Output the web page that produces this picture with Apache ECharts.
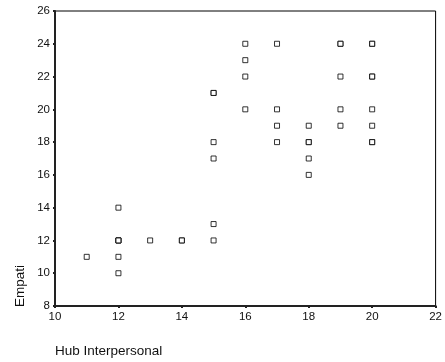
<!DOCTYPE html>
<html><head><meta charset="utf-8">
<script src="https://cdn.jsdelivr.net/npm/echarts@6/dist/echarts.min.js"></script>
<style>html,body{margin:0;padding:0;background:#fff}#c{width:445px;height:362px}</style>
</head><body><div id="c"></div>
<script>
// Hub Interpersonal (x) and Empati (y); repeated pairs are overlapping cases
var hubX = [11, 12,12,12,12,12,12, 13, 14,14, 15,15,15,15,15,15, 16,16,16,16, 17,17,17,17, 18,18,18,18,18, 19,19,19,19,19, 20,20,20,20,20,20,20,20];
var empatiY = [11, 14,12,12,12,11,10, 12, 12,12, 21,21,18,17,13,12, 24,23,22,20, 24,20,19,18, 19,18,18,17,16, 24,24,22,20,19, 24,24,22,22,20,19,18,18];
var xTicks = [10, 12, 14, 16, 18, 20, 22];
var yTicks = [8, 10, 12, 14, 16, 18, 20, 22, 24, 26];
var xTitle = 'Hub Interpersonal';
var yTitle = 'Empati';

var pts = hubX.map(function (x, i) { return [x, empatiY[i]]; });
var chart = echarts.init(document.getElementById('c'), null, { renderer: 'canvas' });
var font = 'Liberation Sans, Arial, sans-serif';
chart.setOption({
  animation: false,
  backgroundColor: '#fff',
  grid: { left: 55, right: 5, top: 11, bottom: 56, show: true, borderColor: '#000', borderWidth: 1 },
  xAxis: {
    type: 'value', min: xTicks[0], max: xTicks[xTicks.length - 1], interval: 2,
    axisLine: { lineStyle: { color: '#222', width: 2 } },
    axisTick: { show: true, length: 2, lineStyle: { color: '#222', width: 2 } },
    axisLabel: { color: '#111', fontSize: 11.5, fontFamily: font, margin: 5 },
    splitLine: { show: false }
  },
  yAxis: {
    type: 'value', min: yTicks[0], max: yTicks[yTicks.length - 1], interval: 2,
    axisLine: { show: true, lineStyle: { color: '#222', width: 2 } },
    axisTick: { show: true, length: 2, lineStyle: { color: '#222', width: 2 } },
    axisLabel: { color: '#111', fontSize: 11.5, fontFamily: font, margin: 5 },
    splitLine: { show: false }
  },
  graphic: [
    { type: 'text', left: 55, top: 344, style: { text: xTitle, fill: '#111', font: '13.5px ' + font } },
    { type: 'text', x: 13, y: 307, rotation: Math.PI / 2, style: { text: yTitle, fill: '#111', font: '13.5px ' + font, textAlign: 'left', textVerticalAlign: 'top' } }
  ],
  series: [{
    type: 'scatter', data: pts, symbol: 'rect', symbolSize: 5,
    itemStyle: { color: '#fff', borderColor: '#000', borderWidth: 1 }
  }]
});
</script></body></html>
